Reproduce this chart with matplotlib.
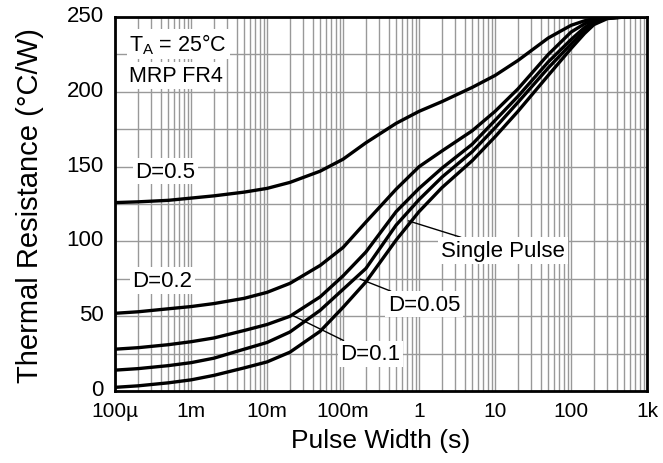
import matplotlib
matplotlib.use("Agg")
import matplotlib.pyplot as plt
import matplotlib.transforms as mtransforms
import numpy as np

plt.rcParams['font.family'] = ['Liberation Sans', 'DejaVu Sans']
plt.rcParams['mathtext.fontset'] = 'custom'
plt.rcParams['mathtext.rm'] = 'Liberation Sans'

# pulse width (s) and thermal resistance (C/W)
pulse = [1e-4, 2e-4, 5e-4, 1e-3, 2e-3, 5e-3, 1e-2, 2e-2, 5e-2, 0.1, 0.2, 0.5,
         1, 2, 5, 10, 20, 50, 100, 150, 200, 300, 500, 1000]
d05 = [126, 126.5, 127.5, 129, 130.5, 133, 135.5, 139.5, 147, 155, 166, 179,
       187, 193.5, 203, 211, 221, 236, 244.5, 247.5, 249, 249.7, 250, 250]
d02 = [52, 53, 55, 56.5, 58.5, 62, 66, 72, 84, 96, 113, 135,
       150, 160.5, 174, 187, 202, 225, 240, 245.5, 248, 249.5, 250, 250]
d01 = [28, 29, 31, 33, 35.5, 40.5, 44.5, 50, 63, 77, 93, 120,
       135.5, 149, 165, 181, 197, 220, 235, 243, 247, 249.5, 250, 250]
d005 = [14, 15, 17, 19, 22, 28, 32.5, 39.5, 54, 68, 82, 111,
        128, 143, 160, 176, 193, 216, 232, 241, 246, 249.5, 250, 250]
single = [2.5, 3.5, 5.5, 7.5, 10.5, 15.5, 19.5, 26, 40, 56, 73, 101,
          120, 136, 154, 170, 187, 211, 229, 239, 245, 249, 250, 250]

xticks = [1e-4, 1e-3, 1e-2, 1e-1, 1, 10, 100, 1000]
xticklabels = ['100µ', '1m', '10m', '100m', '1', '10', '100', '1k']
yticks = [0, 50, 100, 150, 200, 250]

fig = plt.figure(figsize=(6.63, 4.64), dpi=100)
ax = fig.add_axes([0.1735, 0.155, 0.8025, 0.806])

for ys in [d05, d02, d01, d005, single]:
    ax.plot(pulse, ys, color='black', lw=2.4, solid_joinstyle='round',
            solid_capstyle='round', zorder=3)

ax.set_xscale('log')
ax.set_xlim(1e-4, 1e3)
ax.set_ylim(0, 250)
ax.set_xticks(xticks)
ax.set_xticklabels(xticklabels)
ax.set_yticks(yticks)
ax.set_yticks(np.arange(0, 251, 25), minor=True)
ax.xaxis.set_minor_locator(matplotlib.ticker.LogLocator(base=10, subs=np.arange(2, 10), numticks=20))
ax.xaxis.set_minor_formatter(matplotlib.ticker.NullFormatter())
ax.grid(True, which='both', color='#999999', lw=1.0, zorder=1)
ax.tick_params(which='both', length=0)
ax.tick_params(axis='x', labelsize=15, pad=7)
ax.tick_params(axis='y', labelsize=16, pad=8)
# nudge y labels up a little so "0" clears "100µ"
shift = mtransforms.ScaledTranslation(0, 3 / 72, fig.dpi_scale_trans)
for lab in ax.get_yticklabels():
    lab.set_transform(lab.get_transform() + shift)
for s in ax.spines.values():
    s.set_linewidth(2)
    s.set_zorder(4)

ax.set_xlabel('Pulse Width (s)', fontsize=19, labelpad=6)
ax.set_ylabel('Thermal Resistance (°C/W)', fontsize=21, labelpad=16)

box = dict(facecolor='white', edgecolor='none', pad=2)
ax.text(1.55e-4, 232, 'T$_\\mathrm{A}$ = 25°C', fontsize=15.5, va='center', bbox=box, zorder=5)
ax.text(1.55e-4, 211, 'MRP FR4', fontsize=15.5, va='center', bbox=box, zorder=5)
ax.text(1.85e-4, 147, 'D=0.5', fontsize=16, va='center', bbox=box, zorder=5)
ax.text(1.7e-4, 74, 'D=0.2', fontsize=16, va='center', bbox=box, zorder=5)

line = dict(arrowstyle='-', color='black', lw=1, shrinkA=0, shrinkB=0)
ax.annotate('D=0.1', xy=(0.0222, 50.3), xytext=(0.092, 25), fontsize=16, va='center',
            bbox=box, zorder=5, arrowprops=line)
ax.annotate('D=0.05', xy=(0.1675, 74.9), xytext=(0.39, 58), fontsize=16, va='center',
            bbox=box, zorder=5, arrowprops=line)
ax.annotate('Single Pulse', xy=(0.723, 113.8), xytext=(1.95, 94), fontsize=16, va='center',
            bbox=box, zorder=5, arrowprops=line)

fig.savefig('out.png', dpi=100)
